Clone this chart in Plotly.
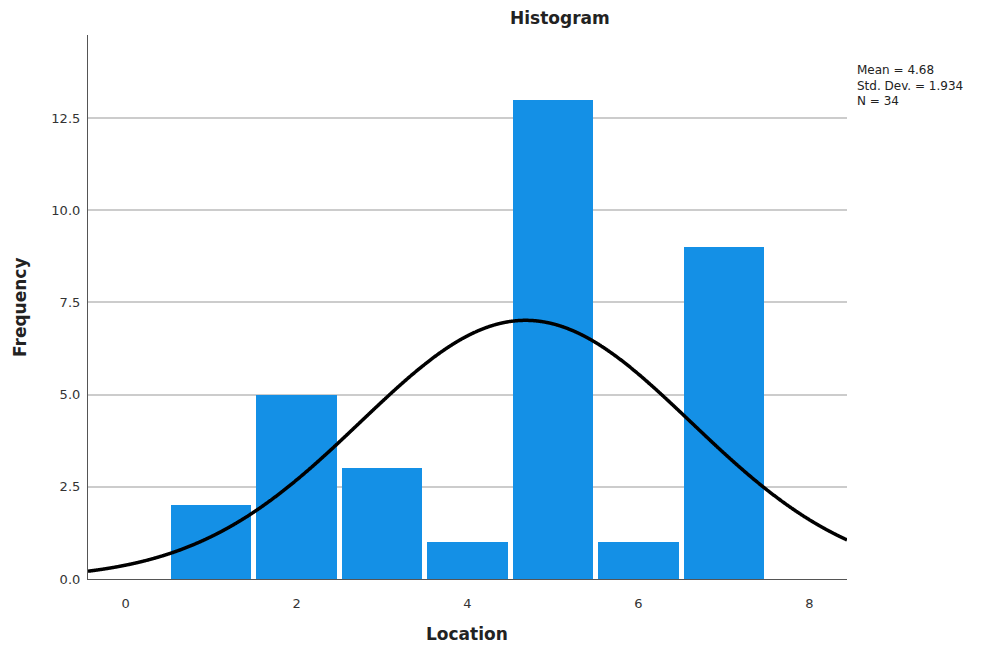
import numpy as np
import plotly.graph_objects as go

# Histogram data: Location values (bin centres) and frequencies
locations = [1, 2, 3, 4, 5, 6, 7]
frequencies = [2, 5, 3, 1, 13, 1, 9]

# Summary statistics shown in the legend box
mean_val = 4.68
std_val = 1.934
n_val = 34

y_ticks = [0.0, 2.5, 5.0, 7.5, 10.0, 12.5]
x_ticks = [0, 2, 4, 6, 8]

x_range = [-0.44, 8.44]
y_range = [0, 14.75]

font_family = "DejaVu Sans"
text_color = "#333333"
title_color = "#222222"

W, H = 985, 648
M_L, M_R, M_T, M_B = 88, 138, 35, 69
plot_w = W - M_L - M_R
plot_h = H - M_T - M_B

fig = go.Figure()

fig.add_trace(go.Bar(
    x=locations,
    y=frequencies,
    width=0.945,
    marker=dict(color="#1490e6", line=dict(width=0)),
    showlegend=False,
    hoverinfo="x+y",
))

# Normal curve scaled to counts (bin width 1)
xs = np.linspace(x_range[0], x_range[1], 1200)
ys = n_val * 1.0 / (std_val * np.sqrt(2 * np.pi)) * np.exp(-0.5 * ((xs - mean_val) / std_val) ** 2)
fig.add_trace(go.Scatter(
    x=xs, y=ys, mode="lines",
    line=dict(color="black", width=3.5, shape="spline"),
    showlegend=False, hoverinfo="skip",
))


def px_x(p):
    return (p - M_L) / plot_w


def px_y(p):
    return (H - M_B - p) / plot_h


fig.update_layout(
    width=W, height=H,
    margin=dict(l=M_L, r=M_R, t=M_T, b=M_B, autoexpand=False),
    paper_bgcolor="white",
    plot_bgcolor="white",
    font=dict(family=font_family, color=text_color, size=13),
    bargap=0,
    xaxis=dict(
        range=x_range,
        tickvals=x_ticks,
        ticktext=[str(v) for v in x_ticks],
        showgrid=False,
        zeroline=False,
        showline=True,
        linecolor="#555555",
        linewidth=1.2,
        ticks="",
        ticklabelstandoff=12,
        automargin=False,
    ),
    yaxis=dict(
        range=y_range,
        tickvals=y_ticks,
        ticktext=[f"{v:.1f}" for v in y_ticks],
        showgrid=True,
        gridcolor="#cccccc",
        gridwidth=1.5,
        zeroline=False,
        showline=True,
        linecolor="#555555",
        linewidth=1.2,
        ticks="",
        ticklabelstandoff=4,
        automargin=False,
    ),
    annotations=[
        dict(
            text="<b>Histogram</b>",
            xref="paper", yref="paper",
            x=px_x(560), y=px_y(18),
            xanchor="center", yanchor="middle",
            showarrow=False,
            font=dict(size=17, color=title_color),
        ),
        dict(
            text="<b>Location</b>",
            xref="paper", yref="paper",
            x=px_x(467), y=px_y(634),
            xanchor="center", yanchor="middle",
            showarrow=False,
            font=dict(size=17, color=title_color),
        ),
        dict(
            text="<b>Frequency</b>",
            xref="paper", yref="paper",
            x=px_x(20), y=px_y(307),
            xanchor="center", yanchor="middle",
            textangle=-90,
            showarrow=False,
            font=dict(size=17, color=title_color),
        ),
        dict(
            text=f"Mean = {mean_val:.2f}<br>Std. Dev. = {std_val:.3f}<br>N = {n_val}",
            xref="paper", yref="paper",
            x=px_x(855), y=px_y(61),
            xanchor="left", yanchor="top",
            align="left",
            showarrow=False,
            font=dict(size=12, color=title_color),
        ),
    ],
)

fig.write_html("out.html")
